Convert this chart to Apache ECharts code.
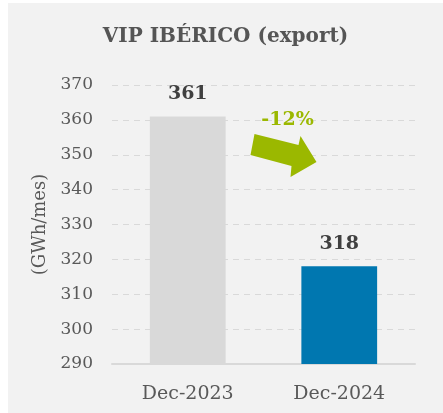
<!DOCTYPE html>
<html><head><meta charset="utf-8">
<script src="https://cdn.jsdelivr.net/npm/echarts@6/dist/echarts.min.js"></script>
<style>
html,body{margin:0;padding:0;background:#fff;}
#wrap{position:absolute;left:8px;top:3px;width:435px;height:410px;background:#f2f2f2;}
#c{width:435px;height:410px;}
</style></head>
<body><div id="wrap"><div id="c"></div></div>
<script>
const categories = ['Dec-2023', 'Dec-2024'];
const values = [361, 318];
const barColors = ['#d9d9d9', '#0077b0'];
const changeLabel = '-12%';
const yMin = 290, yMax = 370, yStep = 10;

const FONT = 'DejaVu Serif';
const chart = echarts.init(document.getElementById('c'), null, {renderer: 'canvas'});
chart.setOption({
  backgroundColor: '#f2f2f2',
  animation: false,
  title: {
    text: 'VIP IBÉRICO (export)', left: 'center', top: 19,
    textStyle: {fontFamily: FONT, fontWeight: 'bold', fontSize: 20, color: '#555555'}
  },
  grid: {left: 104, right: 28, top: 82, bottom: 49},
  xAxis: {
    type: 'category', data: categories,
    axisLine: {show: true, lineStyle: {color: '#d9d9d9', width: 2}},
    axisTick: {show: false},
    axisLabel: {fontFamily: FONT, fontSize: 19, color: '#595959', margin: 21}
  },
  yAxis: {
    type: 'value', min: yMin, max: yMax, interval: yStep,
    name: '(GWh/mes)', nameLocation: 'middle', nameGap: 58,
    nameTextStyle: {fontFamily: FONT, fontSize: 18, color: '#595959'},
    axisLine: {show: false}, axisTick: {show: false},
    axisLabel: {fontFamily: FONT, fontSize: 17, color: '#595959', margin: 19},
    splitLine: {lineStyle: {color: '#d9d9d9', type: [6, 5], width: 1}}
  },
  series: [{
    type: 'bar', barWidth: '50%',
    data: values.map((v, i) => ({value: v, itemStyle: {color: barColors[i]}})),
    label: {show: true, position: 'top', distance: 13,
      fontFamily: FONT, fontWeight: 'bold', fontSize: 19, color: '#404040'}
  }]
});

// change arrow annotation anchored between the two bars
const p0 = chart.convertToPixel({xAxisIndex: 0, yAxisIndex: 0}, [0, 350.5]);
const p1 = chart.convertToPixel({xAxisIndex: 0, yAxisIndex: 0}, [1, 350.5]);
const cx = (p0[0] + p1[0]) / 2 + 21, cy = p0[1];
const pts = [[-30,-19],[14,-8],[16,-17],[32,9],[6,24],[7,13],[-34,2]];
chart.setOption({
  graphic: [
    {type: 'polygon', x: cx, y: cy, shape: {points: pts}, style: {fill: '#9bb800'}},
    {type: 'text', x: cx + 3, y: cy - 33, style: {text: changeLabel, fill: '#9bb800',
      font: 'bold 19px "DejaVu Serif"', textAlign: 'center', textVerticalAlign: 'middle'}}
  ]
});
</script></body></html>
